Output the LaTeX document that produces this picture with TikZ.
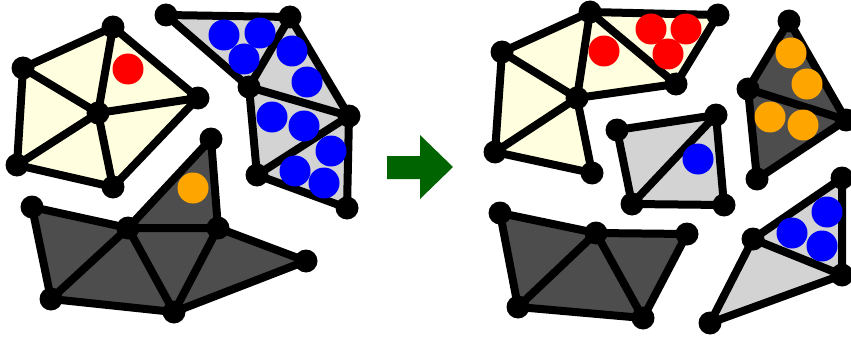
\documentclass[tikz,border=0pt]{standalone}
\usetikzlibrary{calc}
\definecolor{paleyellow}{HTML}{FFFFE0}
\definecolor{lgray}{HTML}{D3D3D3}
\definecolor{dgray}{HTML}{4D4D4D}
\definecolor{myorange}{HTML}{FFA500}
\definecolor{arrowgreen}{HTML}{006400}
\begin{document}
\begin{tikzpicture}[x=1pt,y=-1pt,
  edge/.style={draw=black,line width=8pt,line join=round,line cap=round},
  vtx/.style={circle,fill=black,minimum size=23pt,inner sep=0pt},
  dotb/.style={circle,fill=blue,minimum size=31pt,inner sep=0pt},
  dotr/.style={circle,fill=red,minimum size=31pt,inner sep=0pt},
  doto/.style={circle,fill=myorange,minimum size=31pt,inner sep=0pt}]
\useasboundingbox (0,0) rectangle (851,337);
% ---------- left: yellow fan
\coordinate (A) at (113,27);
\coordinate (B) at (23,68);
\coordinate (C) at (17,165);
\coordinate (D) at (113,187);
\coordinate (E) at (198,98);
\coordinate (F) at (98,113);
% ---------- left: light gray strip
\coordinate (G) at (166,15);
\coordinate (H) at (290,17);
\coordinate (I) at (249,87);
\coordinate (J) at (349,116);
\coordinate (K) at (257,175);
\coordinate (L) at (347,208);
% ---------- left: dark gray
\coordinate (M) at (211,139);
\coordinate (N) at (32,207);
\coordinate (O) at (128,228);
\coordinate (P) at (218,228);
\coordinate (Q) at (306,261);
\coordinate (R) at (51,299);
\coordinate (S) at (174,312);
% ---------- right: yellow
\coordinate (a) at (590,12);
\coordinate (b) at (502,52);
\coordinate (c) at (495,152);
\coordinate (d) at (592,173);
\coordinate (e) at (577,98);
\coordinate (f) at (676,84);
\coordinate (g) at (718,15);
% ---------- right: light gray square
\coordinate (h) at (617,130);
\coordinate (i) at (716,115);
\coordinate (j) at (632,204);
\coordinate (k) at (724,205);
% ---------- right: dark gray pair
\coordinate (l) at (789,21);
\coordinate (m) at (748,89);
\coordinate (n) at (846,120);
\coordinate (o) at (757,179);
% ---------- right: light gray pair
\coordinate (p) at (842,178);
\coordinate (q) at (753,239);
\coordinate (r) at (842,275);
\coordinate (s) at (710,323);
% ---------- right: dark gray bottom
\coordinate (t) at (500,213);
\coordinate (u) at (596,233);
\coordinate (v) at (687,234);
\coordinate (w) at (518,307);
\coordinate (z) at (643,318);

% fills
\fill[paleyellow] (A)--(B)--(C)--(D)--(E)--cycle;
\fill[lgray] (G)--(H)--(J)--(L)--(K)--(I)--cycle;
\fill[dgray] (M)--(P)--(Q)--(S)--(R)--(N)--(O)--cycle;
\fill[paleyellow] (a)--(g)--(f)--(e)--(d)--(c)--(b)--cycle;
\fill[lgray] (h)--(i)--(k)--(j)--cycle;
\fill[dgray] (l)--(n)--(o)--(m)--cycle;
\fill[lgray] (p)--(r)--(s)--(q)--cycle;
\fill[dgray] (t)--(u)--(v)--(z)--(w)--cycle;

% edges left
\draw[edge] (A)--(B)--(C)--(D)--(E)--cycle;
\draw[edge] (A)--(F) (B)--(F) (C)--(F) (D)--(F) (E)--(F);
\draw[edge] (G)--(H)--(J)--(L)--(K)--(I)--cycle;
\draw[edge] (H)--(I)--(J)--(K);
\draw[edge] (M)--(P)--(Q)--(S)--(R)--(N)--(O)--cycle;
\draw[edge] (O)--(P)--(S)--(O)--(R);
% edges right
\draw[edge] (a)--(g)--(f)--(e)--(d)--(c)--(b)--cycle;
\draw[edge] (a)--(e) (b)--(e) (c)--(e) (a)--(f);
\draw[edge] (h)--(i)--(k)--(j)--cycle;
\draw[edge] (i)--(j);
\draw[edge] (l)--(n)--(o)--(m)--cycle;
\draw[edge] (m)--(n);
\draw[edge] (p)--(r)--(s)--(q)--cycle;
\draw[edge] (q)--(r);
\draw[edge] (t)--(u)--(v)--(z)--(w)--cycle;
\draw[edge] (u)--(w) (u)--(z);

% coloured dots
\node[dotr] (rd1) at (128,69) {};
\node[doto] (od1) at (193,188) {};
\node[dotb] (bd1) at (224,35) {};
\node[dotb] (bd2) at (260,33) {};
\node[dotb] (bd3) at (244,59) {};
\node[dotb] (bd4) at (292,51) {};
\node[dotb] (bd5) at (307,82) {};
\node[dotb] (bd6) at (272,117) {};
\node[dotb] (bd7) at (304,126) {};
\node[dotb] (bd8) at (331,151) {};
\node[dotb] (bd9) at (295,171) {};
\node[dotb] (bd10) at (324,183) {};
\node[dotr] (rd2) at (604,51) {};
\node[dotr] (rd3) at (651,29) {};
\node[dotr] (rd4) at (686,29) {};
\node[dotr] (rd5) at (668,54) {};
\node[dotb] (bd11) at (698,159) {};
\node[doto] (od2) at (791,53) {};
\node[doto] (od3) at (807,84) {};
\node[doto] (od4) at (770,117) {};
\node[doto] (od5) at (803,125) {};
\node[dotb] (bd12) at (792,233) {};
\node[dotb] (bd13) at (827,212) {};
\node[dotb] (bd14) at (822,246) {};

% vertices
\foreach \v in {A,B,C,D,E,F,G,H,I,J,K,L,M,N,O,P,Q,R,S,a,b,c,d,e,f,g,h,i,j,k,l,m,n,o,p,q,r,s,t,u,v,w,z}
  \node[vtx] (v\v) at (\v) {};

% arrow
\fill[arrowgreen] (387,156)--(420,156)--(420,135)--(453,167)--(420,199)--(420,179)--(387,179)--cycle;
\end{tikzpicture}
\end{document}
